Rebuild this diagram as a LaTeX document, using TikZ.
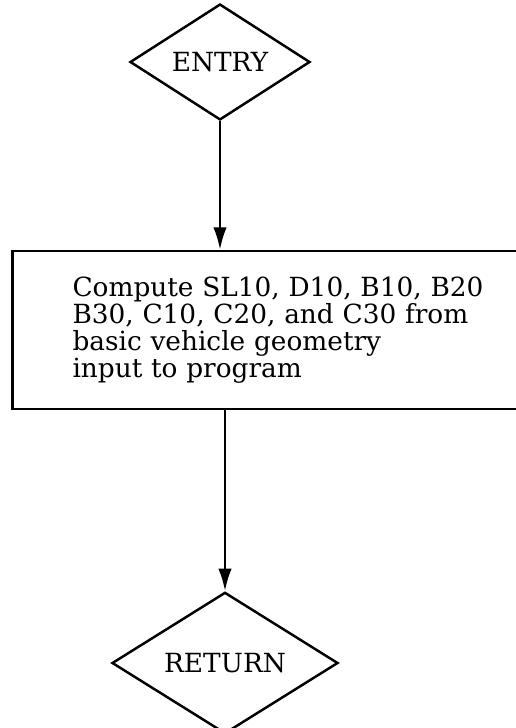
\documentclass[tikz,border=0pt]{standalone}
\usepackage{fontspec}
\setmainfont{DejaVu Serif}
\usepackage{tikz}
\usetikzlibrary{shapes.geometric, arrows.meta, positioning, calc}

\begin{document}
\begin{tikzpicture}[
    line width=1.4pt,
    font=\fontsize{15}{15.3}\selectfont,
    decision/.style={draw, diamond, inner sep=0pt},
    process/.style={draw, rectangle, inner xsep=1.2cm, text width=8.8cm, align=left, minimum height=3.16cm},
    flow/.style={-{Latex[length=0.45cm, width=0.27cm]}}
  ]
  \useasboundingbox (0,0) rectangle (10.3,-14.56);

  \node[decision, minimum width=3.6cm, minimum height=2.16cm] (entry) at (4.4,-1.24) {ENTRY};
  \node[process] (geom) at (5.85,-6.6) {
    Compute SL10, D10, B10, B20\\
    B30, C10, C20, and C30 from\\
    basic vehicle geometry\\
    input to program
  };
  \node[decision, minimum width=4.52cm, minimum height=2.6cm] (ret) at (4.5,-13.26) {RETURN};

  \draw[flow] (entry.south) -- (entry.south |- geom.north);
  \draw[flow] (geom.south -| ret.north) -- (ret.north);
\end{tikzpicture}
\end{document}
